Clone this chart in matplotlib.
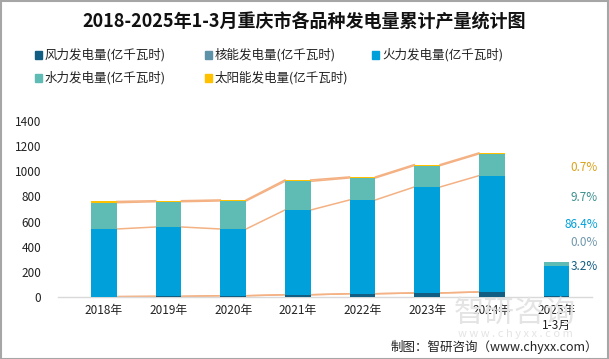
import matplotlib
matplotlib.use("Agg")
import matplotlib.pyplot as plt
import numpy as np
from matplotlib.patches import Rectangle

plt.rcParams['font.family'] = ['Noto Sans CJK SC', 'DejaVu Sans']

categories = ["2018年", "2019年", "2020年", "2021年", "2022年", "2023年", "2024年", "2025年\n1-3月"]
wind = [3, 5, 10, 18, 26, 32, 40, 8.9]
nuclear = [0, 0, 0, 0, 0, 0, 0, 0]
thermal = [538, 552, 531, 674, 746, 843, 925, 240]
hydro = [209, 201, 223, 228, 175, 170, 173, 27]
solar = [10, 8, 8, 11, 8, 8, 8, 1.9]
series_names = ["风力发电量(亿千瓦时)", "核能发电量(亿千瓦时)", "火力发电量(亿千瓦时)",
                "水力发电量(亿千瓦时)", "太阳能发电量(亿千瓦时)"]
colors = ["#125E82", "#5E92A8", "#00A0DA", "#5EBCB4", "#FFC000"]
pct_labels = ["0.7%", "9.7%", "86.4%", "0.0%", "3.2%"]
pct_colors = ["#D9A21B", "#3E8E8E", "#00A0DA", "#6F97AD", "#125E82"]
yticks = [0, 200, 400, 600, 800, 1000, 1200, 1400]

fig = plt.figure(figsize=(6.09, 3.59), dpi=100)

# watermark (behind everything)
fig.text(515/609, 1 - 313/359, "智研咨询", fontsize=22, color="#E4E4E4", ha="center",
         va="center", zorder=0)
fig.text(515/609, 1 - 334/359, "w w w . c h y x x . c o m", fontsize=8, color="#E4E4E4",
         ha="center", va="center", zorder=0)

ax = fig.add_axes([58/609, (359-297)/359, 534/609, 176/359])
ax.patch.set_alpha(0)

x = np.arange(len(categories))
w = 0.40
data = [wind, nuclear, thermal, hydro, solar]
bottom = np.zeros(len(categories))
levels = []
for vals, c, name in zip(data, colors, series_names):
    v = np.array(vals, dtype=float)
    ax.bar(x, v, w, bottom=bottom, color=c, label=name, zorder=3)
    bottom = bottom + v
    levels.append(bottom.copy())

# series lines between 2018..2024
for lev in levels:
    for i in range(6):
        ax.plot([x[i] + w/2, x[i+1] - w/2], [lev[i], lev[i+1]],
                color="#F4B183", lw=1.1, zorder=2)

ax.set_xlim(-0.71, 7.55)
ax.set_ylim(0, 1400)
ax.set_yticks(yticks)
ax.set_yticklabels([str(t) for t in yticks], fontsize=8.5)
ax.set_xticks(x)
ax.set_xticklabels(categories, fontsize=8.5)
ax.tick_params(axis='both', length=0, colors="#222222")
ax.tick_params(axis='y', pad=12)
ax.tick_params(axis='x', pad=5)
for s in ["top", "right", "left"]:
    ax.spines[s].set_visible(False)
ax.spines["bottom"].set_color("#D9D9D9")
ax.spines["bottom"].set_linewidth(1)

# percentage labels
pct_y = [167, 197, 225, 243, 266]
for lab, c, py in zip(pct_labels, pct_colors, pct_y):
    fig.text(598/609, 1 - py/359, lab, color=c, fontsize=8.5, ha="right", va="center")

# title
fig.text(0.5, 1 - 22/359, "2018-2025年1-3月重庆市各品种发电量累计产量统计图",
         ha="center", va="center", fontsize=13, fontweight="bold", color="#111111")

# legend (manual)
leg_pos = [(35, 55), (205, 55), (372, 55), (35, 78), (205, 78)]
for (lx, ly), c, name in zip(leg_pos, colors, series_names):
    fig.patches.append(Rectangle((lx/609, 1 - (ly+3.5)/359), 7/609, 7/359,
                                 transform=fig.transFigure, color=c, figure=fig))
    fig.text((lx+10)/609, 1 - ly/359, name, fontsize=9, va="center", ha="left", color="#222222")

# footer
fig.text(598/609, 1 - 347/359, "制图：智研咨询（www.chyxx.com）", fontsize=9,
         ha="right", va="center", color="#222222")

# border
fig.patches.append(Rectangle((0.5/609, 0.5/359), 1 - 1.5/609, 1 - 1.5/359,
                             transform=fig.transFigure, fill=False,
                             edgecolor="#A6A6A6", lw=1.5, figure=fig))

fig.savefig("out.png", dpi=100)
